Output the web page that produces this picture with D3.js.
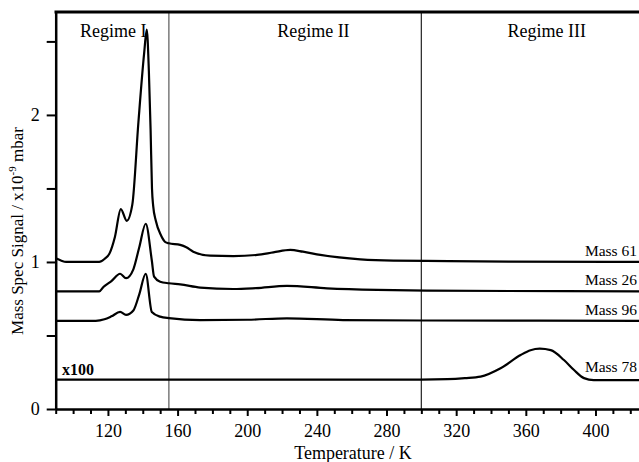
<!DOCTYPE html>
<html>
<head>
<meta charset="utf-8">
<script src="https://cdn.jsdelivr.net/npm/d3@7"></script>
<style>
    body { margin: 0; background: #fff; }
    svg { display: block; font-family: "Liberation Serif", "DejaVu Serif", serif; }
</style>
</head>
<body>
<div id="graph"></div>
<script>

// Données (température en K, signal en 1e-9 mbar)

const tempMass61 = [90, 93, 96, 115, 118, 121, 124, 127.4, 130.8, 134, 137.5, 140.8, 142.3, 143.5, 144.5, 145.3, 146, 147.5, 150.5, 153, 155, 161.5, 165, 169, 178.7, 192, 205.6, 215, 224.7, 232, 242, 265, 284, 303, 350, 425];
const sigMass61 = [1.025, 1.01, 1.0, 1.0, 1.02, 1.06, 1.17, 1.36, 1.28, 1.39, 1.95, 2.42, 2.58, 2.3, 1.9, 1.5, 1.38, 1.28, 1.18, 1.135, 1.127, 1.116, 1.10, 1.07, 1.043, 1.04, 1.048, 1.065, 1.082, 1.07, 1.048, 1.018, 1.009, 1.007, 1.002, 1.0];

const tempMass26 = [90, 115, 117.4, 122, 127, 130.4, 134.6, 138, 141.7, 145.2, 146.5, 150, 155, 161.5, 173, 192, 205, 222.8, 245.8, 274.6, 303, 425];
const sigMass26 = [0.80, 0.80, 0.83, 0.87, 0.92, 0.89, 0.95, 1.1, 1.26, 1.01, 0.90, 0.866, 0.855, 0.848, 0.826, 0.816, 0.822, 0.837, 0.821, 0.81, 0.805, 0.80];

const tempMass96 = [90, 113, 118, 122, 127, 130.4, 134.6, 138, 141.7, 145.2, 150, 155, 173, 200, 222.8, 255, 303, 425];
const sigMass96 = [0.60, 0.60, 0.61, 0.63, 0.66, 0.64, 0.67, 0.78, 0.92, 0.66, 0.628, 0.618, 0.605, 0.607, 0.617, 0.605, 0.602, 0.60];

const tempMass78 = [90, 300, 315, 325, 334, 345.5, 357, 362.7, 368, 374.3, 381.9, 387.7, 393.4, 399, 425];
const sigMass78 = [0.2, 0.2, 0.203, 0.21, 0.22, 0.277, 0.367, 0.40, 0.41, 0.40, 0.333, 0.265, 0.21, 0.197, 0.197];

const seriesNames = ["Mass 61", "Mass 26", "Mass 96", "Mass 78"];
const labelY = [1.04, 0.84, 0.64, 0.25];

const regimeBounds = [155, 300];
const regimeNames = ["Regime I", "Regime II", "Regime III"];
const regimeLabelT = [123, 238, 372];

const xMajorTicks = [120, 160, 200, 240, 280, 320, 360, 400];
const yMajorTicks = [0, 1, 2];
const yMinorTicks = [0.5, 1.5, 2.5];

// Canevas

const width = 639;
const height = 462;
const plotLeft = 55.7;
const plotRight = 639;
const plotTop = 12;
const plotBottom = 409;

const svg = d3.select("#graph")
    .append("svg")
    .attr("width", width)
    .attr("height", height);

// Echelles

const scaleT = d3.scaleLinear()
    .domain([90, 425])
    .range([plotLeft, plotRight]);

const scaleY = d3.scaleLinear()
    .domain([0, 2.7])
    .range([plotBottom, plotTop]);

const xMinorTicks = d3.range(90, 421, 10).filter(t => !xMajorTicks.includes(t));

// Lignes de séparation des régimes

svg.selectAll(".regime")
    .data(regimeBounds)
    .join("line")
    .attr("class", "regime")
    .attr("x1", d => scaleT(d))
    .attr("x2", d => scaleT(d))
    .attr("y1", plotTop)
    .attr("y2", plotBottom)
    .attr("stroke", (d, i) => i === 0 ? "#666" : "#333")
    .attr("stroke-width", 1.3);

svg.selectAll(".regime-label")
    .data(regimeNames)
    .join("text")
    .attr("class", "regime-label")
    .attr("x", (d, i) => scaleT(regimeLabelT[i]))
    .attr("y", 37)
    .attr("text-anchor", "middle")
    .attr("font-size", "18px")
    .text(d => d);

// Courbes

const line = d3.line()
    .curve(d3.curveMonotoneX)
    .x(d => scaleT(d[0]))
    .y(d => scaleY(d[1]));

const series = [
    d3.zip(tempMass61, sigMass61),
    d3.zip(tempMass26, sigMass26),
    d3.zip(tempMass96, sigMass96),
    d3.zip(tempMass78, sigMass78)
];

svg.selectAll(".curve")
    .data(series)
    .join("path")
    .attr("class", "curve")
    .attr("d", line)
    .attr("fill", "none")
    .attr("stroke", "#000")
    .attr("stroke-width", 2.2)
    .attr("stroke-linejoin", "round");

svg.selectAll(".mass-label")
    .data(seriesNames)
    .join("text")
    .attr("class", "mass-label")
    .attr("x", 637)
    .attr("y", (d, i) => scaleY(labelY[i]))
    .attr("text-anchor", "end")
    .attr("font-size", "15.5px")
    .text(d => d);

svg.append("text")
    .attr("x", 62)
    .attr("y", 375)
    .attr("font-size", "16px")
    .attr("font-weight", "bold")
    .text("x100");

// Axes

svg.append("g")
    .attr("transform", `translate(0, ${plotBottom})`)
    .call(d3.axisBottom(scaleT).tickValues(xMajorTicks).tickSize(7).tickSizeOuter(0).tickPadding(8))
    .call(g => g.select(".domain").attr("stroke-width", 2.5))
    .call(g => g.selectAll(".tick line").attr("stroke-width", 2))
    .call(g => g.selectAll("text").attr("font-size", "18px").attr("font-family", "Liberation Serif"));

svg.append("g")
    .attr("transform", `translate(0, ${plotBottom})`)
    .call(d3.axisBottom(scaleT).tickValues(xMinorTicks).tickSize(5).tickFormat(""))
    .call(g => g.select(".domain").remove())
    .call(g => g.selectAll(".tick line").attr("stroke-width", 2));

svg.append("g")
    .attr("transform", `translate(${plotLeft}, 0)`)
    .call(d3.axisLeft(scaleY).tickValues(yMajorTicks).tickFormat(d3.format("d")).tickSize(9).tickSizeOuter(0).tickPadding(7))
    .call(g => g.select(".domain").attr("stroke-width", 2.5))
    .call(g => g.selectAll(".tick line").attr("stroke-width", 2))
    .call(g => g.selectAll("text").attr("font-size", "18px").attr("font-family", "Liberation Serif"));

svg.append("g")
    .attr("transform", `translate(${plotLeft}, 0)`)
    .call(d3.axisLeft(scaleY).tickValues(yMinorTicks).tickSize(9).tickFormat(""))
    .call(g => g.select(".domain").remove())
    .call(g => g.selectAll(".tick line").attr("stroke-width", 2));

// Cadre du haut

svg.append("line")
    .attr("x1", plotLeft - 1.2)
    .attr("x2", plotRight)
    .attr("y1", plotTop)
    .attr("y2", plotTop)
    .attr("stroke", "#000")
    .attr("stroke-width", 3);

// Titres des axes

svg.append("text")
    .attr("x", 353)
    .attr("y", 459)
    .attr("text-anchor", "middle")
    .attr("font-size", "18px")
    .text("Temperature / K");

const yTitle = svg.append("text")
    .attr("transform", "translate(23, 231) rotate(-90)")
    .attr("text-anchor", "middle")
    .attr("font-size", "17px");

yTitle.append("tspan").text("Mass Spec Signal / x10");
yTitle.append("tspan").attr("dy", -7).attr("font-size", "11px").text("-9");
yTitle.append("tspan").attr("dy", 7).text(" mbar");

</script>
</body>
</html>
